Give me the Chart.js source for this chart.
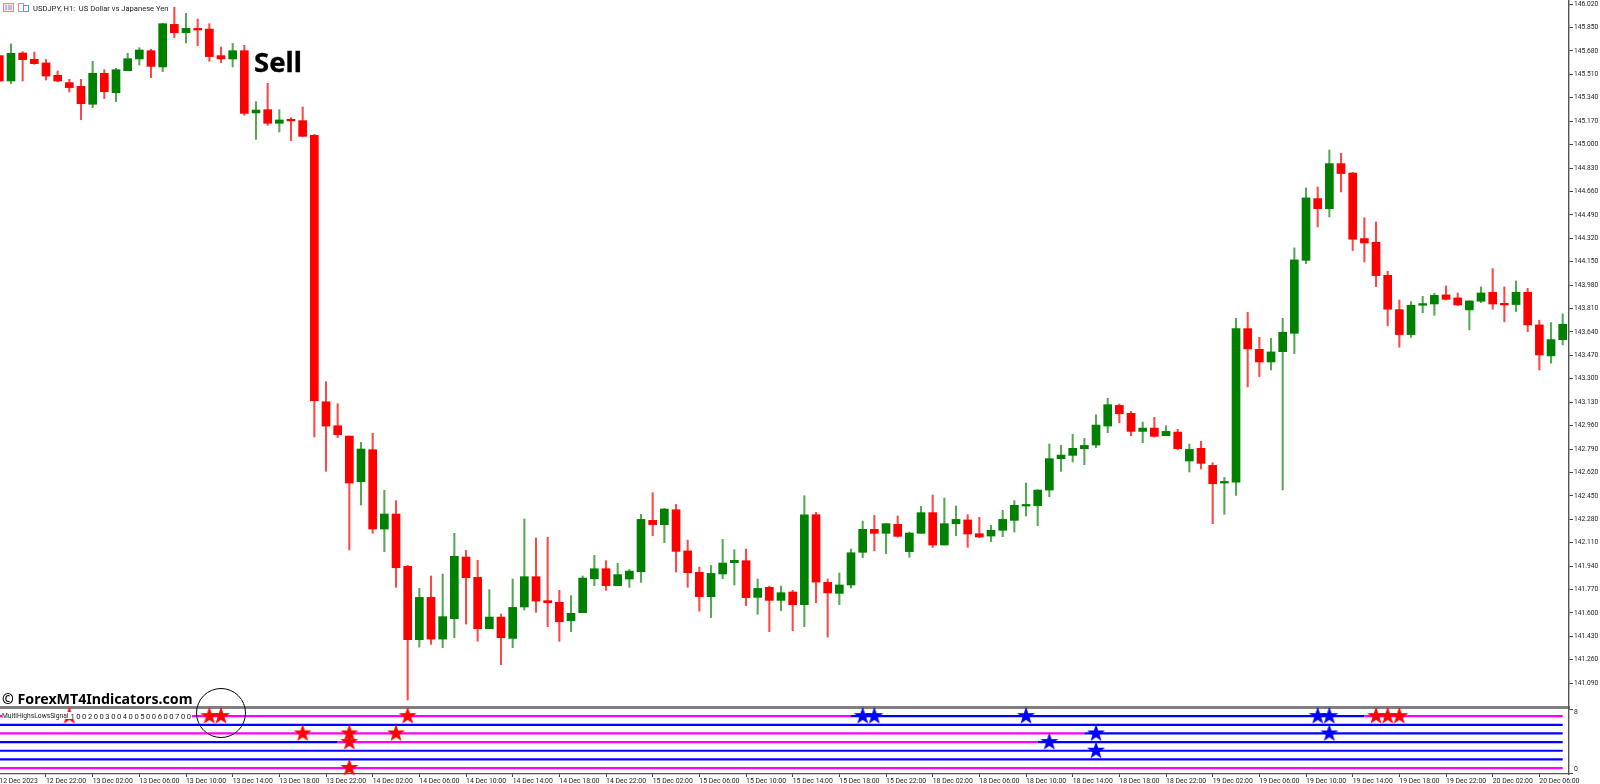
<!DOCTYPE html>
<html><head><meta charset="utf-8">
<script src="https://cdn.jsdelivr.net/npm/chart.js@4"></script>
<style>
html,body{margin:0;padding:0;background:#fff;width:1600px;height:784px;overflow:hidden}
canvas{position:absolute;left:0}
.t{position:absolute;white-space:pre;color:#000;line-height:1}
</style></head><body>
<canvas id="main" width="1600" height="709" style="top:0;width:1600px;height:709px"></canvas>
<canvas id="sub" width="1600" height="84" style="top:700px;width:1600px;height:84px"></canvas>
<svg style="position:absolute;left:3px;top:3px" width="28" height="9" viewBox="0 0 28 9">
<rect x="0.5" y="0.5" width="10" height="8" fill="#fbe3e3" stroke="#e88"/><path d="M3 2v5M6 2v5M8 2v5" stroke="#6a9cd8" stroke-width="1"/>
<rect x="15.5" y="0.5" width="5" height="8" fill="#fff" stroke="#f08080"/><rect x="20.5" y="2.5" width="5" height="6" fill="#fff" stroke="#5a9ad8"/>
</svg>
<div class="t" style="left:33px;top:3.5px;font:7.6px Roboto;color:#222">USDJPY, H1:  US Dollar vs Japanese Yen</div>
<div class="t" style="left:254px;top:47.5px;font:bold 27.5px 'Noto Sans';line-height:27px;-webkit-text-stroke:0.35px #000">Sell</div>
<div class="t" style="left:2px;top:691px;font:bold 14.2px 'Noto Sans';line-height:15px">© ForexMT4Indicators.com</div>
<div style="position:absolute;left:2px;top:711.5px;width:190px;height:7.8px;background:#fff"></div>
<div class="t" style="left:2px;top:712px;font:6.7px Roboto;color:#222">MultiHighsLowsSignal</div>
<div class="t" style="left:70.5px;top:711.5px;font:7.6px Roboto;color:#222;word-spacing:-0.34px">1 0 0 2 0 0 3 0 0 4 0 0 5 0 0 6 0 0 7 0 0</div>
<div style="position:absolute;left:196px;top:687.5px;width:48px;height:48px;border:1.6px solid #000;border-radius:50%"></div>
<script>
const tickLabels=["12 Dec 2023","12 Dec 22:00","13 Dec 02:00","13 Dec 06:00","13 Dec 10:00","13 Dec 14:00","13 Dec 18:00","13 Dec 22:00","14 Dec 02:00","14 Dec 06:00","14 Dec 10:00","14 Dec 14:00","14 Dec 18:00","14 Dec 22:00","15 Dec 02:00","15 Dec 06:00","15 Dec 10:00","15 Dec 14:00","15 Dec 18:00","15 Dec 22:00","18 Dec 02:00","18 Dec 06:00","18 Dec 10:00","18 Dec 14:00","18 Dec 18:00","18 Dec 22:00","19 Dec 02:00","19 Dec 06:00","19 Dec 10:00","19 Dec 14:00","19 Dec 18:00","19 Dec 22:00","20 Dec 02:00","20 Dec 06:00"];
const priceTicks=[146.02,145.85,145.68,145.51,145.34,145.17,145.00,144.83,144.66,144.49,144.32,144.15,143.98,143.81,143.64,143.47,143.30,143.13,142.96,142.79,142.62,142.45,142.28,142.11,141.94,141.77,141.60,141.43,141.26,141.09];
const opens=[145.646,145.462,145.665,145.619,145.593,145.503,145.450,145.423,145.293,145.518,
145.377,145.537,145.622,145.682,145.564,145.873,145.813,145.844,145.839,145.646,
145.622,145.682,145.230,145.254,145.155,145.181,145.174,145.067,143.133,142.959,
142.884,142.553,142.785,142.209,142.318,141.938,141.406,141.713,141.410,141.558,
142.006,141.858,141.485,141.570,141.415,141.643,141.863,141.689,141.677,141.544,
141.602,141.848,141.921,141.798,141.846,141.899,142.272,142.241,142.349,142.050,
141.895,141.718,141.883,141.965,141.979,141.713,141.786,141.691,141.752,141.660,
142.313,141.822,141.742,141.803,142.040,142.207,142.178,142.243,142.045,142.178,
142.328,142.093,142.248,142.275,142.175,142.158,142.200,142.272,142.376,142.379,
142.492,142.720,142.744,142.792,142.819,142.957,143.107,143.049,142.918,142.942,
142.887,142.913,142.703,142.795,142.671,142.543,142.550,143.664,143.514,143.422,
143.497,143.630,144.160,144.608,144.535,144.862,144.794,144.318,144.291,144.051,
143.802,143.621,143.834,143.843,143.909,143.887,143.800,143.863,143.928,143.846,
143.839,143.928,143.691,143.466,143.584];
const closes=[145.462,145.663,145.617,145.588,145.498,145.462,145.414,145.297,145.518,145.384,
145.544,145.624,145.687,145.568,145.878,145.813,145.844,145.832,145.639,145.622,
145.682,145.227,145.251,145.155,145.179,145.172,145.060,143.141,142.957,142.894,
142.543,142.790,142.209,142.318,141.928,141.406,141.713,141.410,141.573,142.011,
141.856,141.485,141.570,141.420,141.640,141.863,141.686,141.674,141.536,141.597,
141.853,141.921,141.798,141.878,141.904,142.279,142.241,142.354,142.047,141.892,
141.718,141.887,141.962,141.982,141.711,141.778,141.691,141.747,141.660,142.313,
141.824,141.745,141.803,142.037,142.207,142.178,142.248,142.156,142.180,142.328,
142.093,142.248,142.279,142.173,142.151,142.200,142.279,142.381,142.383,142.492,
142.720,142.746,142.795,142.816,142.964,143.112,143.046,142.918,142.942,142.882,
142.918,142.792,142.787,142.686,142.538,142.550,143.664,143.517,143.422,143.495,
143.638,144.163,144.613,144.535,144.862,144.790,144.313,144.286,144.049,143.805,
143.621,143.834,143.846,143.906,143.877,143.836,143.865,143.923,143.843,143.836,
143.928,143.691,143.473,143.584,143.696];
const highs=[145.651,145.731,145.675,145.672,145.619,145.535,145.474,145.474,145.605,145.544,
145.554,145.663,145.704,145.692,145.881,145.997,145.953,145.912,145.878,145.709,
145.735,145.721,145.312,145.445,145.254,145.196,145.273,145.075,143.279,143.119,
142.884,142.838,142.904,142.490,142.415,141.945,141.778,141.868,141.882,142.178,
142.054,141.982,141.769,141.592,141.846,142.282,142.144,142.149,141.764,141.725,
141.868,142.018,141.979,141.960,141.916,142.316,142.473,142.359,142.388,142.129,
141.933,141.945,142.134,142.059,142.064,141.846,141.795,141.795,141.764,142.451,
142.330,141.846,141.890,142.064,142.267,142.308,142.250,142.304,142.187,142.374,
142.456,142.434,142.376,142.313,142.294,142.236,142.345,142.415,142.543,142.495,
142.826,142.817,142.897,142.867,143.039,143.158,143.117,143.063,142.986,143.020,
142.959,142.933,142.826,142.846,142.691,142.584,143.739,143.783,143.601,143.594,
143.739,144.250,144.686,144.693,144.961,144.937,144.799,144.470,144.439,144.081,
143.872,143.860,143.899,143.921,143.974,143.923,143.868,143.967,144.100,143.967,
144.010,143.957,143.725,143.708,143.771];
const lows=[145.457,145.443,145.462,145.583,145.469,145.457,145.382,145.181,145.268,145.334,
145.312,145.537,145.578,145.486,145.530,145.777,145.738,145.718,145.605,145.595,
145.564,145.213,145.038,145.140,145.092,145.029,145.058,142.877,142.628,142.872,
142.057,142.383,142.178,142.044,141.786,140.968,141.352,141.372,141.348,141.420,
141.519,141.394,141.485,141.224,141.348,141.621,141.604,141.500,141.394,141.464,
141.602,141.798,141.764,141.798,141.786,141.822,142.161,142.110,141.897,141.786,
141.612,141.566,141.849,141.803,141.653,141.590,141.464,141.616,141.471,141.500,
141.674,141.425,141.660,141.781,142.001,142.050,142.030,142.151,142.004,142.178,
142.074,142.093,142.161,142.076,142.146,142.117,142.154,142.187,142.304,142.233,
142.444,142.628,142.696,142.676,142.800,142.908,142.981,142.887,142.836,142.877,
142.887,142.785,142.623,142.645,142.248,142.316,142.453,143.241,143.316,143.364,
142.493,143.483,144.136,144.402,144.475,144.656,144.231,144.148,143.969,143.684,
143.529,143.601,143.780,143.761,143.872,143.831,143.655,143.853,143.805,143.713,
143.788,143.642,143.364,143.413,143.546];
// indicator: state changes of each signal line, [bar, state]
const signalLevels=[7,6,5,4,3,2,1];
const signalRuns7=[[0,"sell"],[73,"buy"],[117,"sell"]];
const signalRuns6=[[0,"buy"]];
const signalRuns5=[[0,"sell"],[93,"buy"]];
const signalRuns4=[[0,"buy"],[29,"sell"],[89,"buy"]];
const signalRuns3=[[0,"buy"]];
const signalRuns2=[[0,"buy"]];
const signalRuns1=[[0,"sell"]];
const sellBars=[6,18,19,35,26,30,34,30,30,118,119,120];
const sellLevels=[7,7,7,7,5,5,5,4,1,7,7,7];
const buyBars=[74,75,88,113,114,114,94,94,90];
const buyLevels=[7,7,7,7,7,5,5,3,4];

const RED="#ff0000",GREEN="#008000",BLUE="#0000ff",MAGENTA="#ff00ff";
const WICK_RED="rgba(255,0,0,0.72)",WICK_GREEN="rgba(0,128,0,0.68)";
const FONT={family:"Roboto",size:6.9};
const bars=opens.map((_,i)=>i);
const XMIN=0.0574,XMAX=134.54;
const candleColor=bars.map(i=>closes[i]<opens[i]?RED:GREEN);
const wickColor=bars.map(i=>closes[i]<opens[i]?WICK_RED:WICK_GREEN);
const timeTicks=tickLabels.map((_,i)=>i*4);
function noPad(s){s.paddingTop=0;s.paddingBottom=0;s.paddingLeft=0;s.paddingRight=0;}

new Chart(document.getElementById("main"),{
  type:"bar",
  data:{datasets:[
    {label:"High-Low",data:bars.map(i=>({x:i,y:[lows[i],highs[i]]})),backgroundColor:wickColor,barThickness:1.4,grouped:false,order:2},
    {label:"Open-Close",data:bars.map(i=>({x:i,y:[opens[i],closes[i]]})),backgroundColor:candleColor,barThickness:8,minBarLength:1.6,grouped:false,order:1}
  ]},
  options:{responsive:false,devicePixelRatio:1,animation:false,
    layout:{padding:0,autoPadding:false},
    plugins:{legend:{display:false},tooltip:{enabled:false}},
    scales:{
      x:{type:"linear",offset:false,min:XMIN,max:XMAX,
        ticks:{display:false},
        grid:{display:true,drawOnChartArea:false,drawTicks:false},
        border:{display:true,color:"#808080",width:3},
        afterFit(s){s.height=2;noPad(s);}},
      y:{type:"linear",position:"right",min:140.917,max:146.05,
        afterBuildTicks(s){s.ticks=priceTicks.map(v=>({value:v}));},
        afterFit(s){s.width=31;noPad(s);},
        ticks:{autoSkip:false,font:{family:"Roboto",size:6.7},color:"#222",padding:1,callback:v=>Number(v).toFixed(3)},
        grid:{drawOnChartArea:false,drawTicks:true,tickLength:4,tickColor:"#444",tickWidth:1},
        border:{display:true,color:"#555",width:1.4}}
    }}
});

function starCanvas(color){
  const c=document.createElement("canvas");c.width=20;c.height=20;
  const g=c.getContext("2d");g.fillStyle=color;g.beginPath();
  for(let k=0;k<10;k++){const r=k%2?3.7:9.4,a=-Math.PI/2+k*Math.PI/5;
    g[k?"lineTo":"moveTo"](10+r*Math.cos(a),10+r*Math.sin(a));}
  g.closePath();g.fill();return c;
}
const runsByLevel={7:signalRuns7,6:signalRuns6,5:signalRuns5,4:signalRuns4,3:signalRuns3,2:signalRuns2,1:signalRuns1};
function stateAt(level,x){let st="buy";for(const [b,s] of runsByLevel[level]){if(x>=b)st=s;}return st;}
const lineSets=signalLevels.map(level=>({
  type:"line",label:"Signal "+level,data:bars.map(i=>({x:i,y:level})),
  borderWidth:2.2,pointRadius:0,borderColor:BLUE,order:3,
  segment:{borderColor:ctx=>stateAt(level,ctx.p0.parsed.x)==="sell"?MAGENTA:BLUE}
}));
new Chart(document.getElementById("sub"),{
  type:"line",
  data:{datasets:[...lineSets,
    {type:"line",label:"Sell",showLine:false,clip:false,data:sellBars.map((b,i)=>({x:b,y:sellLevels[i]})),pointStyle:starCanvas(RED),pointRadius:10,order:1},
    {type:"line",label:"Buy",showLine:false,clip:false,data:buyBars.map((b,i)=>({x:b,y:buyLevels[i]})),pointStyle:starCanvas(BLUE),pointRadius:10,order:1}
  ]},
  options:{responsive:false,devicePixelRatio:1,animation:false,
    layout:{padding:{top:7.5},autoPadding:false},
    plugins:{legend:{display:false},tooltip:{enabled:false}},
    scales:{
      x:{type:"linear",offset:false,min:XMIN,max:XMAX,
        afterBuildTicks(s){s.ticks=timeTicks.map(v=>({value:v}));},
        afterFit(s){s.height=10;noPad(s);},
        ticks:{autoSkip:false,maxRotation:0,minRotation:0,align:"start",font:FONT,color:"#222",padding:0,
          callback:v=>tickLabels[Math.round(v/4)]},
        grid:{drawOnChartArea:false,drawTicks:true,tickLength:3,tickColor:"#444"},
        border:{display:true,color:"#555",width:1.2}},
      y:{type:"linear",position:"right",min:0.31,max:8,
        afterBuildTicks(s){s.ticks=[7.8,7.4,0.85,0.38].map(v=>({value:v}));},
        afterFit(s){s.width=31;noPad(s);},
        ticks:{autoSkip:false,font:{family:"Roboto",size:6.9},color:"#222",padding:1,
          callback:v=>v===7.4?"8":v===0.85?"0":""},
        grid:{drawOnChartArea:false,drawTicks:true,tickLength:4,
          tickColor:c=>(c.tick&&(c.tick.value===7.8||c.tick.value===0.38))?"#444":"rgba(0,0,0,0)"},
        border:{display:true,color:"#555",width:1.4}}
    }}
});
</script>
</body></html>
